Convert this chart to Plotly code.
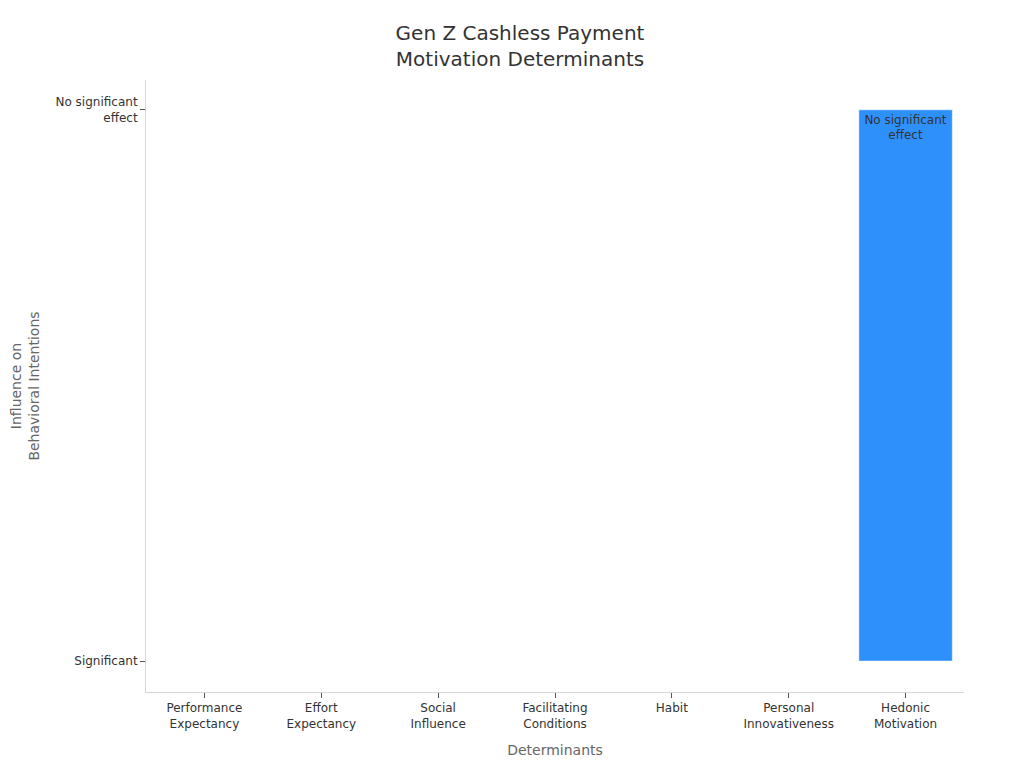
import plotly.graph_objects as go

categories = ["Performance<br>Expectancy", "Effort<br>Expectancy", "Social<br>Influence",
              "Facilitating<br>Conditions", "Habit", "Personal<br>Innovativeness",
              "Hedonic<br>Motivation"]
y_levels = ["Significant", "No significant<br>effect"]
influence = ["Significant", "Significant", "Significant", "Significant",
             "Significant", "Significant", "No significant<br>effect"]

fig = go.Figure()
fig.add_trace(go.Bar(
    x=categories,
    y=influence,
    text=influence,
    textposition="inside",
    insidetextanchor="end",
    textfont=dict(family="DejaVu Sans", size=12, color="#333333"),
    marker=dict(color="#2E91FB", line=dict(color="rgba(255,255,255,0.5)", width=1)),
    showlegend=False,
))

fig.update_layout(
    width=1024, height=768,
    paper_bgcolor="white", plot_bgcolor="white",
    font=dict(family="DejaVu Sans", size=12, color="#333333"),
    title=dict(text="Gen Z Cashless Payment<br>Motivation Determinants",
               x=0.5, xanchor="center", y=0.9586, yanchor="top",
               font=dict(size=20, color="#333333")),
    margin=dict(l=138, r=68, t=72, b=84),
    bargap=0.2,
    xaxis=dict(
        title=dict(text="Determinants", font=dict(size=14, color="#666666"), standoff=15),
        range=[-0.5, 6.5],
        automargin=False,
        showline=True, linecolor="#d6d6d6", linewidth=1,
        ticks="outside", ticklen=5, tickcolor="#555555",
        showgrid=False, zeroline=False,
        tickfont=dict(size=12, color="#333333"),
    ),
    yaxis=dict(
        title=dict(text="Influence on<br>Behavioral Intentions", font=dict(size=14, color="#666666"), standoff=17),
        type="category",
        categoryorder="array", categoryarray=y_levels,
        range=[-0.056, 1.054],
        automargin=False,
        showline=True, linecolor="#d6d6d6", linewidth=1,
        ticks="outside", ticklen=5, tickcolor="#555555",
        showgrid=False, zeroline=False,
        tickfont=dict(size=12, color="#333333"),
    ),
)

fig.write_html("out.html")
